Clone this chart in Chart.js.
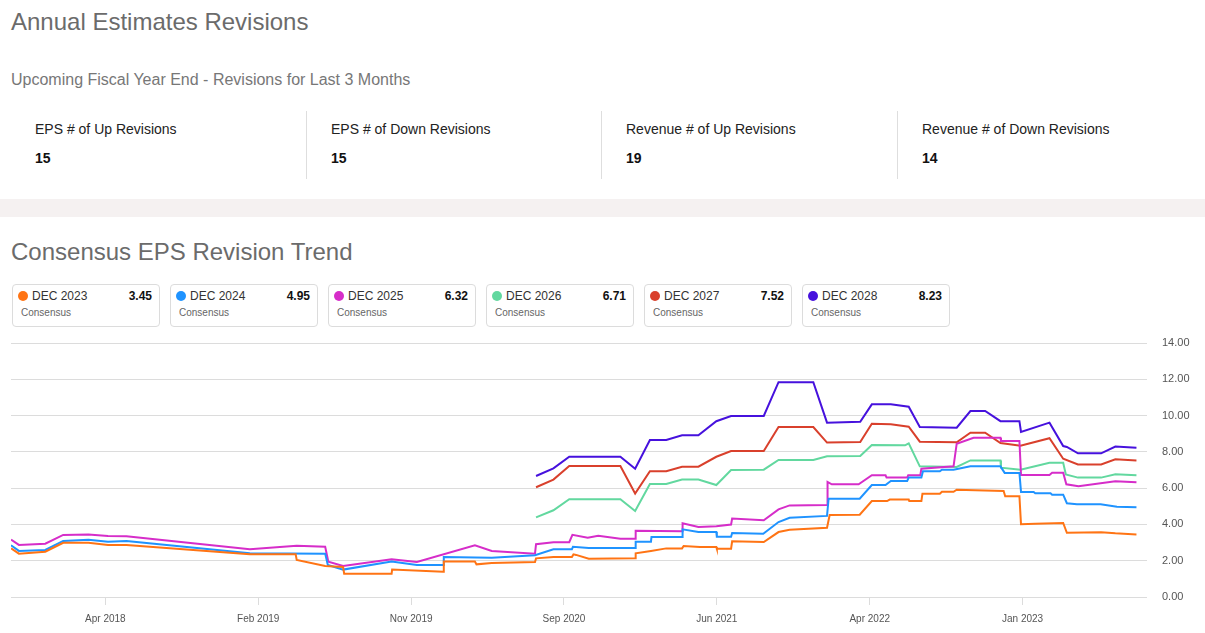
<!DOCTYPE html>
<html>
<head>
<meta charset="utf-8">
<script src="https://cdn.jsdelivr.net/npm/chart.js@4.4.0/dist/chart.umd.min.js"></script>
<style>
  body { margin: 0; background: #fff; font-family: Arial, "Liberation Sans", sans-serif; overflow: hidden; }
  #page { position: relative; width: 1205px; height: 633px; }
  .abs { position: absolute; white-space: nowrap; line-height: 1; }
  .h1 { font-size: 24px; color: #6b6b6b; }
  .sub { font-size: 16px; color: #777; }
  .stat-label { font-size: 14px; color: #222; }
  .stat-value { font-size: 14px; font-weight: bold; color: #111; }
  .divider { position: absolute; width: 1px; background: #dedede; top: 111px; height: 68px; }
  .band { position: absolute; left: 0; top: 199px; width: 1205px; height: 18px; background: #f5f1f1; }
  .card { position: absolute; top: 284px; width: 146px; height: 41px; border: 1px solid #dcdcdc; border-radius: 4px; background: #fff; }
  .card .dot { position: absolute; left: 5px; top: 6px; width: 10px; height: 10px; border-radius: 50%; }
  .card .name { position: absolute; left: 19px; top: 5px; font-size: 12px; color: #333; line-height: 1; white-space: nowrap; }
  .card .val { position: absolute; right: 7px; top: 5px; font-size: 12px; font-weight: bold; color: #111; line-height: 1; }
  .card .cons { position: absolute; left: 8px; top: 23px; font-size: 10px; color: #666; line-height: 1; }
  #chartBox { position: absolute; left: 0; top: 336px; width: 1205px; height: 291px; }
</style>
</head>
<body>
<div id="page">
  <div class="abs h1" style="left:11px; top:10px;">Annual Estimates Revisions</div>
  <div class="abs sub" style="left:11px; top:72px;">Upcoming Fiscal Year End - Revisions for Last 3 Months</div>
  <div id="stats"></div>
  <div class="band"></div>
  <div class="abs h1" style="left:11px; top:240px;">Consensus EPS Revision Trend</div>
  <div id="cards"></div>
  <div id="chartBox"><canvas id="myChart"></canvas></div>
</div>
<script>
// summary numbers
const statLabels = ["EPS # of Up Revisions", "EPS # of Down Revisions", "Revenue # of Up Revisions", "Revenue # of Down Revisions"];
const statValues = [15, 15, 19, 14];

// legend cards
const seriesLabels = ["DEC 2023", "DEC 2024", "DEC 2025", "DEC 2026", "DEC 2027", "DEC 2028"];
const seriesLatest = [3.45, 4.95, 6.32, 6.71, 7.52, 8.23];
const seriesColors = ["#ff7414", "#1f93ff", "#d62dc9", "#62d89f", "#d9402c", "#4611dd"];

// x axis
const xMin = "2017-10-24";
const xMax = "2023-09-18";
const xTickDates = ["2018-04-21", "2019-02-05", "2019-11-22", "2020-09-07", "2021-06-24", "2022-04-10", "2023-01-25"];
const xTickLabels = ["Apr 2018", "Feb 2019", "Nov 2019", "Sep 2020", "Jun 2021", "Apr 2022", "Jan 2023"];

// y axis
const yMin = 0;
const yMax = 14;
const yStep = 2;

// DEC 2023
const dec2023Dates = ["2017-10-24","2017-11-08","2017-12-28","2018-01-31","2018-03-20","2018-04-26","2018-05-31","2019-01-20","2019-04-17","2019-04-19","2019-06-12","2019-07-16","2019-07-18","2019-10-16","2019-10-17","2020-01-22","2020-01-23","2020-03-22","2020-03-25","2020-04-23","2020-07-14","2020-07-16","2020-08-18","2020-09-22","2020-09-25","2020-09-30","2020-10-24","2021-01-20","2021-01-21","2021-02-19","2021-03-20","2021-04-19","2021-04-22","2021-05-23","2021-06-23","2021-06-24","2021-07-21","2021-07-23","2021-09-21","2021-10-19","2021-11-09","2022-01-19","2022-01-24","2022-03-22","2022-04-14","2022-05-13","2022-05-18","2022-06-23","2022-06-24","2022-07-17","2022-07-19","2022-08-21","2022-08-25","2022-09-16","2022-09-22","2022-12-20","2022-12-23","2023-01-19","2023-01-22","2023-02-18","2023-04-12","2023-04-19","2023-06-23","2023-07-20","2023-08-29"];
const dec2023Values = [2.68,2.39,2.50,2.99,2.99,2.87,2.87,2.35,2.35,2.04,1.71,1.65,1.28,1.28,1.51,1.39,1.95,1.95,1.80,1.87,1.93,2.13,2.21,2.21,2.35,2.32,2.11,2.13,2.41,2.54,2.68,2.68,2.81,2.76,2.76,2.66,2.66,3.07,3.03,3.58,3.71,3.82,4.52,4.54,5.29,5.29,5.37,5.37,5.29,5.29,5.69,5.69,5.80,5.80,5.91,5.84,5.55,5.55,4.01,4.04,4.08,3.54,3.57,3.51,3.45];

// DEC 2024
const dec2024Dates = ["2017-10-24","2017-11-08","2017-12-28","2018-01-31","2018-03-20","2018-04-26","2018-05-31","2019-01-20","2019-06-12","2019-06-17","2019-07-16","2019-10-16","2019-12-03","2020-01-22","2020-01-23","2020-04-23","2020-07-14","2020-08-18","2020-09-22","2020-09-24","2020-10-24","2021-01-20","2021-01-21","2021-02-19","2021-02-20","2021-04-19","2021-04-20","2021-05-20","2021-06-23","2021-06-24","2021-07-21","2021-07-23","2021-09-20","2021-10-19","2021-11-09","2022-01-19","2022-01-22","2022-03-22","2022-04-14","2022-05-10","2022-05-20","2022-06-20","2022-06-23","2022-07-17","2022-07-20","2022-08-21","2022-08-25","2022-09-16","2022-10-18","2022-12-14","2022-12-22","2023-01-19","2023-01-22","2023-02-15","2023-02-18","2023-03-19","2023-03-22","2023-04-12","2023-04-19","2023-05-08","2023-06-22","2023-07-23","2023-08-29"];
const dec2024Values = [2.85,2.54,2.59,3.09,3.16,3.05,3.09,2.41,2.39,1.76,1.51,1.95,1.76,1.76,2.21,2.17,2.30,2.63,2.63,2.77,2.70,2.70,3.05,3.05,3.31,3.31,3.73,3.58,3.58,3.32,3.32,3.53,3.49,4.13,4.37,4.47,5.42,5.42,6.17,6.17,6.39,6.39,6.58,6.58,6.93,6.93,7.02,7.02,7.20,7.20,6.84,6.84,5.79,5.79,5.72,5.72,5.64,5.64,5.17,5.11,5.11,4.98,4.95];

// DEC 2025
const dec2025Dates = ["2017-10-24","2017-11-08","2017-12-28","2018-01-31","2018-03-20","2018-04-26","2018-05-31","2019-01-20","2019-04-19","2019-06-12","2019-06-18","2019-07-16","2019-10-16","2019-12-03","2020-03-22","2020-04-23","2020-07-14","2020-07-16","2020-08-18","2020-09-17","2020-09-23","2020-10-22","2020-11-11","2020-12-23","2021-01-20","2021-01-21","2021-04-19","2021-04-20","2021-05-20","2021-06-23","2021-07-21","2021-07-23","2021-09-21","2021-10-19","2021-11-09","2022-01-19","2022-01-20","2022-01-28","2022-03-20","2022-04-14","2022-05-10","2022-05-12","2022-06-20","2022-06-22","2022-07-15","2022-07-17","2022-09-16","2022-09-22","2022-10-24","2022-12-14","2022-12-15","2023-01-19","2023-01-22","2023-03-17","2023-03-22","2023-04-12","2023-04-18","2023-05-11","2023-07-20","2023-08-29"];
const dec2025Values = [3.16,2.87,2.94,3.42,3.45,3.36,3.35,2.63,2.83,2.77,1.95,1.71,2.08,1.93,2.85,2.54,2.39,2.91,3.02,3.02,3.43,3.27,3.38,3.21,3.21,3.65,3.62,4.06,3.86,3.90,3.99,4.32,4.23,4.83,5.05,5.07,6.34,6.21,6.21,6.71,6.71,6.58,6.58,6.71,6.71,7.07,7.20,8.45,8.78,8.78,8.60,8.60,6.73,6.73,6.85,6.85,6.21,6.10,6.38,6.32];

// DEC 2026
const dec2026Dates = ["2020-07-16","2020-08-18","2020-09-17","2020-12-23","2021-01-20","2021-02-17","2021-03-20","2021-04-19","2021-05-20","2021-06-23","2021-07-21","2021-09-21","2021-10-19","2021-12-24","2022-01-19","2022-03-23","2022-04-14","2022-06-16","2022-06-23","2022-07-14","2022-09-22","2022-10-18","2022-12-14","2022-12-15","2023-01-21","2023-03-17","2023-04-12","2023-04-17","2023-05-10","2023-06-23","2023-07-20","2023-08-29"];
const dec2026Values = [4.39,4.78,5.39,5.39,4.74,6.23,6.23,6.47,6.47,6.17,7.00,7.02,7.55,7.55,7.76,7.77,8.38,8.36,8.47,7.20,7.17,7.53,7.53,7.13,7.02,7.40,7.40,6.76,6.58,6.58,6.76,6.71];

// DEC 2027
const dec2027Dates = ["2020-07-16","2020-08-18","2020-09-17","2020-12-23","2021-01-20","2021-02-17","2021-03-20","2021-04-19","2021-05-20","2021-06-23","2021-07-21","2021-09-21","2021-10-19","2021-12-24","2022-01-19","2022-03-23","2022-04-14","2022-05-20","2022-06-23","2022-07-14","2022-09-22","2022-10-18","2022-11-15","2022-12-14","2023-01-21","2023-03-17","2023-04-12","2023-05-10","2023-06-23","2023-07-20","2023-08-29"];
const dec2027Values = [6.05,6.47,7.22,7.22,5.70,6.93,6.93,7.18,7.18,7.73,8.05,8.05,9.37,9.37,8.51,8.54,9.55,9.52,9.39,8.56,8.53,9.06,9.06,8.49,8.34,8.75,7.62,7.31,7.31,7.59,7.52];

// DEC 2028
const dec2028Dates = ["2020-07-16","2020-08-18","2020-09-17","2020-12-23","2021-01-20","2021-02-17","2021-03-20","2021-04-19","2021-05-20","2021-06-23","2021-07-21","2021-09-21","2021-10-19","2021-12-24","2022-01-19","2022-03-23","2022-04-14","2022-05-20","2022-06-23","2022-07-14","2022-09-22","2022-10-18","2022-11-15","2022-12-14","2023-01-19","2023-01-22","2023-03-17","2023-04-12","2023-04-19","2023-05-10","2023-06-23","2023-07-20","2023-08-29"];
const dec2028Values = [6.67,7.09,7.73,7.73,7.07,8.65,8.65,8.91,8.91,9.69,9.98,9.98,11.84,11.84,9.61,9.66,10.62,10.62,10.49,9.37,9.33,10.25,10.25,9.69,9.69,9.10,9.61,8.32,8.27,7.92,7.92,8.29,8.23];

const seriesDates = [dec2023Dates, dec2024Dates, dec2025Dates, dec2026Dates, dec2027Dates, dec2028Dates];
const seriesValues = [dec2023Values, dec2024Values, dec2025Values, dec2026Values, dec2027Values, dec2028Values];

function buildStats() {
  const box = document.getElementById("stats");
  let html = "";
  statLabels.forEach((label, i) => {
    const left = 10 + 295.5 * i;
    if (i > 0) html += `<div class="divider" style="left:${Math.round(left)}px"></div>`;
    html += `<div class="abs stat-label" style="left:${Math.round(left + 25)}px; top:122px;">${label}</div>`;
    html += `<div class="abs stat-value" style="left:${Math.round(left + 25)}px; top:151px;">${statValues[i]}</div>`;
  });
  box.innerHTML = html;
}

function buildCards() {
  const box = document.getElementById("cards");
  let html = "";
  seriesLabels.forEach((label, i) => {
    html += `<div class="card" style="left:${12 + 158 * i}px">
      <div class="dot" style="background:${seriesColors[i]}"></div>
      <div class="name">${label}</div>
      <div class="val">${seriesLatest[i].toFixed(2)}</div>
      <div class="cons">Consensus</div>
    </div>`;
  });
  box.innerHTML = html;
}

function makeChart() {
  const ctx = document.getElementById("myChart").getContext("2d");

  const datasets = seriesLabels.map((label, i) => {
    return {
      label: label,
      data: seriesDates[i].map((d, j) => {
        return { x: Date.parse(d), y: seriesValues[i][j] };
      }),
      borderColor: seriesColors[i],
      backgroundColor: seriesColors[i],
      borderWidth: 2,
      pointRadius: 0,
      tension: 0,
      fill: false,
    };
  });

  new Chart(ctx, {
    type: "line",
    data: { datasets: datasets },
    options: {
      responsive: true,
      maintainAspectRatio: false,
      animation: false,
      layout: { padding: { left: 11, right: 15, top: 7, bottom: 0 } },
      plugins: { legend: { display: false }, tooltip: { enabled: false } },
      scales: {
        x: {
          type: "linear",
          min: Date.parse(xMin),
          max: Date.parse(xMax),
          afterBuildTicks: (scale) => {
            scale.ticks = xTickDates.map((d) => {
              return { value: Date.parse(d) };
            });
          },
          afterFit: (scale) => {
            // keep the plot edges fixed, labels sit well inside
            scale.paddingLeft = 0;
            scale.paddingRight = 0;
            scale.height = 30;
          },
          ticks: {
            autoSkip: false,
            maxRotation: 0,
            padding: 8,
            color: "#555",
            font: { family: "Arial, 'Liberation Sans', sans-serif", size: 10 },
            callback: (value, index) => xTickLabels[index],
          },
          grid: { drawOnChartArea: false, drawTicks: true, tickLength: 8, color: "#dcdcdc" },
          border: { display: false },
        },
        y: {
          position: "right",
          min: yMin,
          max: yMax,
          afterFit: (scale) => {
            scale.paddingTop = 0;
            scale.paddingBottom = 0;
            scale.width = 43;
          },
          ticks: {
            stepSize: yStep,
            padding: 15,
            color: "#555",
            font: { family: "Arial, 'Liberation Sans', sans-serif", size: 11 },
            callback: (value) => value.toFixed(2),
          },
          grid: { color: "#dcdcdc", drawTicks: false },
          border: { display: false },
        },
      },
    },
  });
}

buildStats();
buildCards();
makeChart();
</script>
</body>
</html>
